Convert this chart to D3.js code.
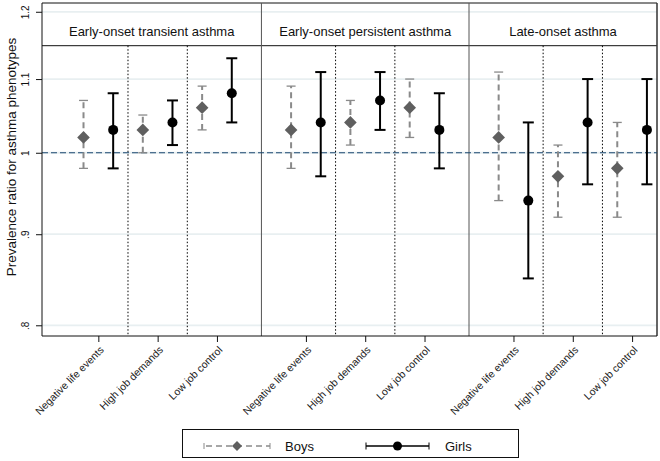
<!DOCTYPE html>
<html><head><meta charset="utf-8">
<script src="https://cdn.jsdelivr.net/npm/d3@7"></script>
<style>html,body{margin:0;padding:0;background:#fff;}svg{display:block;font-family:"Liberation Sans",Arial,sans-serif;}</style>
</head><body>
<svg id="chart" width="660" height="461"></svg>
<script>
const panels = ["Early-onset transient asthma", "Early-onset persistent asthma", "Late-onset asthma"];
const exposures = ["Negative life events", "High job demands", "Low job control"];
const boysPR = [1.02, 1.03, 1.06, 1.03, 1.04, 1.06, 1.02, 0.97, 0.98];
const boysLo = [0.98, 1.00, 1.03, 0.98, 1.01, 1.02, 0.94, 0.92, 0.92];
const boysHi = [1.07, 1.05, 1.09, 1.09, 1.07, 1.10, 1.11, 1.01, 1.04];
const girlsPR = [1.03, 1.04, 1.08, 1.04, 1.07, 1.03, 0.94, 1.04, 1.03];
const girlsLo = [0.98, 1.01, 1.04, 0.97, 1.03, 0.98, 0.85, 0.96, 0.96];
const girlsHi = [1.08, 1.07, 1.13, 1.11, 1.11, 1.08, 1.04, 1.10, 1.10];
const yTicks = [0.8, 0.9, 1, 1.1, 1.2];
const yTickLabels = [".8", ".9", "1", "1.1", "1.2"];
const seriesNames = ["Boys", "Girls"];

const svg = d3.select("#chart");
const L = 42, R = 657, T = 3, B = 336, headerB = 45.7;
const pos = k => 1 + (k % 3) + Math.floor(k / 3) * 3.5;
const x = d3.scaleLinear().domain([0.05, 10.42]).range([L, R]);
const y = d3.scaleLog().domain([0.789, 1.2137]).range([B, T]);
const off = 0.25;

// gridlines
svg.append("g").selectAll("line").data(yTicks).join("line")
  .attr("x1", L).attr("x2", R).attr("y1", d => y(d)).attr("y2", d => y(d))
  .attr("stroke", "#e8eff1").attr("stroke-width", 1.8);

// header line & top frame
svg.append("line").attr("x1", L).attr("x2", R).attr("y1", T).attr("y2", T).attr("stroke", "#111").attr("stroke-width", 1);
svg.append("line").attr("x1", L).attr("x2", R).attr("y1", headerB).attr("y2", headerB).attr("stroke", "#111").attr("stroke-width", 1);
svg.append("line").attr("x1", R).attr("x2", R).attr("y1", T).attr("y2", B).attr("stroke", "#333").attr("stroke-width", 1.5);

// panel dividers
const divPos = [pos(2) + 0.75, pos(5) + 0.75];
svg.append("g").selectAll("line").data(divPos).join("line")
  .attr("x1", d => x(d)).attr("x2", d => x(d)).attr("y1", T).attr("y2", B)
  .attr("stroke", "#555").attr("stroke-width", 1);

// dotted within-panel separators
const dotPos = [];
for (let g = 0; g < 3; g++) for (let j = 0; j < 2; j++) dotPos.push(pos(g * 3 + j) + 0.5);
svg.append("g").selectAll("line").data(dotPos).join("line")
  .attr("x1", d => x(d)).attr("x2", d => x(d)).attr("y1", headerB).attr("y2", B)
  .attr("stroke", "#000").attr("stroke-width", 1).attr("stroke-dasharray", "1.5,2");

// header text
svg.append("g").selectAll("text").data(panels).join("text")
  .attr("x", (d, i) => (x(i === 0 ? 0.05 : divPos[i - 1]) + x(i === 2 ? 10.42 : divPos[i])) / 2)
  .attr("y", 31).attr("dy", "0.35em").attr("text-anchor", "middle")
  .attr("font-size", 13).attr("fill", "#111").text(d => d);

// reference line at 1
svg.append("line").attr("x1", L).attr("x2", R).attr("y1", y(1)).attr("y2", y(1))
  .attr("stroke", "#1a476f").attr("stroke-width", 1.2).attr("stroke-dasharray", "6,3");

// axes
const yAxis = d3.axisLeft(y).tickValues(yTicks).tickFormat((d, i) => yTickLabels[i]).tickSize(6).tickSizeOuter(0);
const gy = svg.append("g").attr("transform", `translate(${L},0)`).call(yAxis);
gy.select(".domain").attr("d", `M0,${T}V${B}`).attr("stroke", "#111");
gy.selectAll(".tick line").attr("stroke", "#111");
gy.selectAll(".tick text").attr("font-size", 10).attr("fill", "#111")
  .style("font-family", "Liberation Sans, Arial, sans-serif")
  .attr("text-anchor", "middle").attr("x", 0).attr("y", 0).attr("dy", "0.35em")
  .attr("transform", "translate(-17,0) rotate(-90)");

const catIdx = d3.range(9);
const xAxis = d3.axisBottom(x).tickValues(catIdx.map(pos)).tickFormat((d, i) => exposures[i % 3]).tickSize(6).tickSizeOuter(0);
const gx = svg.append("g").attr("transform", `translate(0,${B})`).call(xAxis);
gx.select(".domain").attr("d", `M${L},0H${R}`).attr("stroke", "#111");
gx.selectAll(".tick line").attr("stroke", "#111");
gx.selectAll(".tick text").attr("font-size", 10.5).attr("fill", "#222")
  .style("font-family", "Liberation Sans, Arial, sans-serif")
  .attr("text-anchor", "end").attr("x", 0).attr("y", 0).attr("dy", "0.35em")
  .attr("transform", "translate(3,12) rotate(-45)");

// y title
svg.append("text").attr("transform", `translate(11,157) rotate(-90)`)
  .attr("text-anchor", "middle").attr("dy", "0.35em").attr("font-size", 13.5).attr("fill", "#111")
  .text("Prevalence ratio for asthma phenotypes");

// boys
const gb = svg.append("g");
catIdx.forEach(k => {
  const cx = x(pos(k) - off);
  gb.append("line").attr("x1", cx).attr("x2", cx).attr("y1", y(boysLo[k])).attr("y2", y(boysHi[k]))
    .attr("stroke", "#8a8a8a").attr("stroke-width", 2).attr("stroke-dasharray", "6,4");
  [boysLo[k], boysHi[k]].forEach(v => gb.append("line").attr("x1", cx - 4.5).attr("x2", cx + 4.5)
    .attr("y1", y(v)).attr("y2", y(v)).attr("stroke", "#8a8a8a").attr("stroke-width", 1.3));
  gb.append("path").attr("d", d3.symbol(d3.symbolSquare, 80)())
    .attr("transform", `translate(${cx},${y(boysPR[k])}) rotate(45)`).attr("fill", "#5f5f5f");
});
// girls
const gg = svg.append("g");
catIdx.forEach(k => {
  const cx = x(pos(k) + off);
  gg.append("line").attr("x1", cx).attr("x2", cx).attr("y1", y(girlsLo[k])).attr("y2", y(girlsHi[k]))
    .attr("stroke", "#000").attr("stroke-width", 2);
  [girlsLo[k], girlsHi[k]].forEach(v => gg.append("line").attr("x1", cx - 5.5).attr("x2", cx + 5.5)
    .attr("y1", y(v)).attr("y2", y(v)).attr("stroke", "#000").attr("stroke-width", 2));
  gg.append("circle").attr("cx", cx).attr("cy", y(girlsPR[k])).attr("r", 5).attr("fill", "#000");
});

// legend
const lg = svg.append("g");
lg.append("rect").attr("x", 182.5).attr("y", 429.5).attr("width", 336).attr("height", 28)
  .attr("fill", "#fff").attr("stroke", "#111").attr("stroke-width", 1);
const ly = 446;
const legendItems = [
  {x1: 204, x2: 270, name: seriesNames[0], tx: 285},
  {x1: 366, x2: 429, name: seriesNames[1], tx: 445}
];
// boys legend
lg.append("line").attr("x1", legendItems[0].x1).attr("x2", legendItems[0].x2).attr("y1", ly).attr("y2", ly)
  .attr("stroke", "#8a8a8a").attr("stroke-width", 1.3).attr("stroke-dasharray", "6,4").attr("stroke-dashoffset", -2);
[legendItems[0].x1, legendItems[0].x2].forEach(v => lg.append("line").attr("x1", v).attr("x2", v)
  .attr("y1", ly - 3).attr("y2", ly + 3).attr("stroke", "#8a8a8a").attr("stroke-width", 1));
lg.append("path").attr("d", d3.symbol(d3.symbolSquare, 50)())
  .attr("transform", `translate(${(legendItems[0].x1 + legendItems[0].x2) / 2},${ly}) rotate(45)`).attr("fill", "#5f5f5f");
// girls legend
lg.append("line").attr("x1", legendItems[1].x1).attr("x2", legendItems[1].x2).attr("y1", ly).attr("y2", ly)
  .attr("stroke", "#000").attr("stroke-width", 1.3);
[legendItems[1].x1, legendItems[1].x2].forEach(v => lg.append("line").attr("x1", v).attr("x2", v)
  .attr("y1", ly - 3.5).attr("y2", ly + 3.5).attr("stroke", "#000").attr("stroke-width", 1));
lg.append("circle").attr("cx", (legendItems[1].x1 + legendItems[1].x2) / 2).attr("cy", ly).attr("r", 4.5).attr("fill", "#000");
lg.selectAll("text.lt").data(legendItems).join("text").attr("class", "lt")
  .attr("x", d => d.tx).attr("y", ly).attr("dy", "0.35em").attr("font-size", 13).attr("fill", "#111").text(d => d.name);
</script>
</body></html>
